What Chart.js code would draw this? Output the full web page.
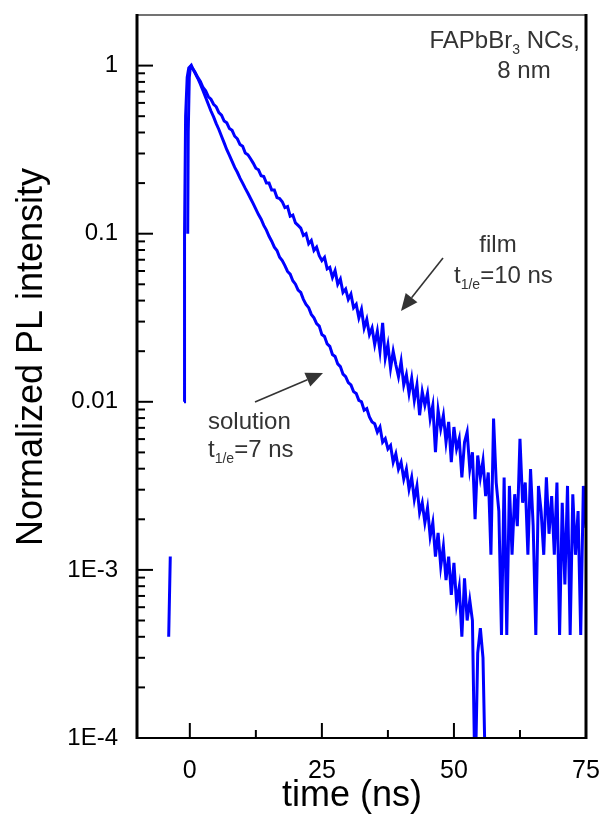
<!DOCTYPE html>
<html>
<head>
<meta charset="utf-8">
<script src="https://cdn.jsdelivr.net/npm/chart.js@4"></script>
<style>
  html, body { margin: 0; padding: 0; background: #fff; }
  canvas { display: block; }
</style>
</head>
<body>
<canvas id="plChart" width="608" height="815"></canvas>
<script>
// time axis (ns) and normalized PL intensity
const solutionTime = [-4.0, -3.7, -3.5, -1.1, -1.0, -0.8, -0.5, -0.2, 0.2,
  0.5, 1, 1.5, 2, 2.5, 3, 3.5, 4, 4.5, 5, 5.5, 6, 6.5, 7, 7.5, 8, 8.5, 9, 9.5, 10,
  10.5, 11, 11.5, 12, 12.5, 13, 13.5, 14, 14.5, 15, 15.5, 16, 16.5, 17, 17.5, 18, 18.5, 19, 19.5, 20,
  20.5, 21, 21.5, 22, 22.5, 23, 23.5, 24, 24.5, 25, 25.5, 26, 26.5, 27, 27.5, 28, 28.5, 29, 29.5, 30,
  30.5, 31, 31.5, 32, 32.5, 33, 33.5, 34, 34.5, 35, 35.5, 36, 36.5, 37, 37.5, 38, 38.5, 39, 39.5, 40,
  40.5, 41, 41.5, 42, 42.5, 43, 43.5, 44, 44.5, 45, 45.5, 46, 46.5, 47, 47.5, 48, 48.5, 49, 49.5, 50,
  50.5, 51, 51.5, 52, 52.5, 53, 53.5, 54, 54.5, 55, 55.5, 56];

const solutionIntensity = [0.0004, 0.0012, null, 0.01, 0.1, 0.5, 0.85, 0.97, 1.0,
  0.966, 0.902, 0.841, 0.776, 0.708, 0.646, 0.589, 0.537, 0.495, 0.452,
  0.417, 0.380, 0.347, 0.316, 0.292, 0.269, 0.248, 0.232, 0.214, 0.200,
  0.186, 0.174, 0.162, 0.151, 0.140, 0.130, 0.122, 0.112, 0.105, 0.0966,
  0.0902, 0.0832, 0.0794, 0.0724, 0.0692, 0.0646, 0.0596, 0.0575, 0.0525, 0.0501,
  0.0462, 0.0447, 0.0407, 0.0380, 0.0363, 0.0331, 0.0316, 0.0292, 0.0282, 0.0251,
  0.0245, 0.0221, 0.0214, 0.0191, 0.0186, 0.0168, 0.0162, 0.0146, 0.0141, 0.0130,
  0.0126, 0.0115, 0.0112, 0.0102, 0.0100, 0.00891, 0.00912, 0.00813, 0.00759, 0.00741,
  0.00661, 0.00708, 0.00575, 0.00603, 0.00525, 0.00550, 0.00437, 0.00490, 0.00398, 0.00437,
  0.00347, 0.00398, 0.00302, 0.00355, 0.00263, 0.00316, 0.00219, 0.00251, 0.00191, 0.00234,
  0.00158, 0.00191, 0.00120, 0.00166, 0.00105, 0.00138, 0.00087, 0.00120, 0.00071, 0.00110,
  0.00063, 0.00079, 0.00040, 0.00089, 0.00050, 0.00066, 0.00050, 0.00005, 0.00032, 0.00045,
  0.00030, 0.00005];

const filmTime = [-0.4, -0.3, -0.1, 0.1, 0.3,
  0.5, 1, 1.5, 2, 2.5, 3, 3.5, 4, 4.5, 5, 5.5, 6, 6.5, 7, 7.5, 8, 8.5, 9, 9.5, 10,
  10.5, 11, 11.5, 12, 12.5, 13, 13.5, 14, 14.5, 15, 15.5, 16, 16.5, 17, 17.5, 18, 18.5, 19, 19.5, 20,
  20.5, 21, 21.5, 22, 22.5, 23, 23.5, 24, 24.5, 25, 25.5, 26, 26.5, 27, 27.5, 28, 28.5, 29, 29.5, 30,
  30.5, 31, 31.5, 32, 32.5, 33, 33.5, 34, 34.5, 35, 35.5, 36, 36.5, 37, 37.5, 38, 38.5, 39, 39.5, 40,
  40.5, 41, 41.5, 42, 42.5, 43, 43.5, 44, 44.5, 45, 45.5, 46, 46.5, 47, 47.5, 48, 48.5, 49, 49.5, 50,
  50.5, 51, 51.5, 52, 52.5, 53, 53.5, 54, 54.5, 55, 55.5, 56, 56.5, 57, 57.5, 58, 58.5, 59, 59.5, 60,
  60.5, 61, 61.5, 62, 62.5, 63, 63.5, 64, 64.5, 65, 65.5, 66, 66.5, 67, 67.5, 68, 68.5, 69, 69.5, 70,
  70.5, 71, 71.5, 72, 72.5, 73, 73.5, 74, 74.5, 75];

const filmIntensity = [0.1, 0.4, 0.85, 0.98, 1.0,
  0.966, 0.912, 0.851, 0.804, 0.741, 0.708, 0.653, 0.631, 0.589, 0.569,
  0.525, 0.507, 0.468, 0.457, 0.422, 0.412, 0.380, 0.367, 0.339, 0.331,
  0.302, 0.295, 0.279, 0.263, 0.245, 0.240, 0.221, 0.219, 0.200, 0.200,
  0.182, 0.182, 0.164, 0.162, 0.155, 0.143, 0.145, 0.127, 0.129, 0.116,
  0.112, 0.108, 0.0977, 0.100, 0.0871, 0.0912, 0.0794, 0.0832, 0.0741, 0.0692,
  0.0724, 0.0617, 0.0631, 0.0550, 0.0603, 0.0501, 0.0537, 0.0447, 0.0468, 0.0407,
  0.0437, 0.0363, 0.0380, 0.0316, 0.0355, 0.0275, 0.0309, 0.0251, 0.0275, 0.0219,
  0.0263, 0.0200, 0.0295, 0.0182, 0.0219, 0.0158, 0.0200, 0.0166, 0.0141, 0.0174,
  0.0126, 0.0145, 0.0112, 0.0138, 0.0102, 0.0126, 0.00832, 0.0115, 0.00955, 0.0112,
  0.00794, 0.00955, 0.00501, 0.00891, 0.00692, 0.00832, 0.00575, 0.00759, 0.00437, 0.00708,
  0.00525, 0.00603, 0.00355, 0.00575, 0.00661, 0.00398, 0.00501, 0.00200, 0.00479, 0.00355,
  0.00447, 0.00275, 0.00380, 0.00123, 0.00794, 0.00331, 0.00224, 0.00041, 0.00355, 0.00041,
  0.00316, 0.00123, 0.00282, 0.00182, 0.00603, 0.00251, 0.00331, 0.00123, 0.00398, 0.00182,
  0.00041, 0.00316, 0.00224, 0.00123, 0.00355, 0.00164, 0.00275, 0.00123, 0.00331, 0.00041,
  0.00251, 0.00082, 0.00316, 0.00041, 0.00282, 0.00123, 0.00224, 0.00041, 0.00316, 0.00178];

const xMajorTicks = [0, 25, 50, 75];
const xMinorTicks = [12.5, 37.5, 62.5];
const yDecades = [0.0001, 0.001, 0.01, 0.1, 1];
const yTickLabels = ['1E-4', '1E-3', '0.01', '0.1', '1'];
const yMinorSteps = [2, 3, 4, 5, 6, 7, 8, 9];

const FONT = '"Liberation Sans", Arial, Helvetica, sans-serif';
const LINE_BLUE = '#0000ff';
const TEXT_GREY = '#333333';

function toPoints(xs, ys) {
  return xs.map((x, i) => ({ x: x, y: ys[i] }));
}

// text with one subscripted chunk, e.g. FAPbBr3 or t1/e
function drawRich(ctx, parts, x, y, size, align) {
  const subSize = Math.round(size * 0.6);
  let width = 0;
  parts.forEach(p => {
    ctx.font = (p.sub ? subSize : size) + 'px ' + FONT;
    p.w = ctx.measureText(p.t).width;
    width += p.w;
  });
  let cx = x;
  if (align === 'center') cx = x - width / 2;
  if (align === 'right') cx = x - width;
  ctx.textAlign = 'left';
  ctx.textBaseline = 'alphabetic';
  parts.forEach(p => {
    ctx.font = (p.sub ? subSize : size) + 'px ' + FONT;
    ctx.fillText(p.t, cx, p.sub ? y + size * 0.25 : y);
    cx += p.w;
  });
}

function drawArrow(ctx, x0, y0, x1, y1) {
  const ang = Math.atan2(y1 - y0, x1 - x0);
  const head = 17, half = 7.5;
  const bx = x1 - head * Math.cos(ang), by = y1 - head * Math.sin(ang);
  ctx.strokeStyle = TEXT_GREY;
  ctx.fillStyle = TEXT_GREY;
  ctx.lineWidth = 1.6;
  ctx.beginPath();
  ctx.moveTo(x0, y0);
  ctx.lineTo(bx, by);
  ctx.stroke();
  ctx.beginPath();
  ctx.moveTo(x1, y1);
  ctx.lineTo(bx + half * Math.sin(ang), by - half * Math.cos(ang));
  ctx.lineTo(bx - half * Math.sin(ang), by + half * Math.cos(ang));
  ctx.closePath();
  ctx.fill();
}

const framePlugin = {
  id: 'frame',
  afterDraw(chart) {
    const ctx = chart.ctx;
    const { left, right, top, bottom } = chart.chartArea;
    const xs = chart.scales.x, ys = chart.scales.y;
    ctx.save();
    ctx.lineCap = 'butt';

    // box
    ctx.strokeStyle = '#444';
    ctx.lineWidth = 1.5;
    ctx.beginPath(); ctx.moveTo(left, top); ctx.lineTo(right, top); ctx.stroke();
    ctx.strokeStyle = '#000';
    ctx.lineWidth = 3;
    ctx.beginPath(); ctx.moveTo(left, top - 1); ctx.lineTo(left, bottom + 1); ctx.stroke();
    ctx.beginPath(); ctx.moveTo(right, top - 1); ctx.lineTo(right, bottom + 1); ctx.stroke();
    ctx.lineWidth = 2;
    ctx.beginPath(); ctx.moveTo(left, bottom); ctx.lineTo(right, bottom); ctx.stroke();

    // inward ticks
    ctx.lineWidth = 2;
    yDecades.forEach(d => {
      const py = ys.getPixelForValue(d);
      ctx.beginPath(); ctx.moveTo(left, py); ctx.lineTo(left + 16, py); ctx.stroke();
      if (d < 1) {
        yMinorSteps.forEach(m => {
          const my = ys.getPixelForValue(d * m);
          ctx.beginPath(); ctx.moveTo(left, my); ctx.lineTo(left + 8, my); ctx.stroke();
        });
      }
    });
    xMajorTicks.forEach(v => {
      const px = xs.getPixelForValue(v);
      ctx.beginPath(); ctx.moveTo(px, bottom); ctx.lineTo(px, bottom - 15); ctx.stroke();
    });
    xMinorTicks.forEach(v => {
      const px = xs.getPixelForValue(v);
      ctx.beginPath(); ctx.moveTo(px, bottom); ctx.lineTo(px, bottom - 8); ctx.stroke();
    });

    // axis titles
    ctx.fillStyle = '#000';
    ctx.font = '36px ' + FONT;
    ctx.textAlign = 'center';
    ctx.textBaseline = 'alphabetic';
    ctx.fillText('time (ns)', 352, 806);
    ctx.save();
    ctx.translate(42, 357);
    ctx.rotate(-Math.PI / 2);
    ctx.fillText('Normalized PL intensity', 0, 0);
    ctx.restore();

    // annotations
    ctx.fillStyle = TEXT_GREY;
    drawRich(ctx, [{ t: 'FAPbBr' }, { t: '3', sub: true }, { t: ' NCs,' }], 580, 48, 24, 'right');
    drawRich(ctx, [{ t: '8 nm' }], 524, 78, 24, 'center');
    drawRich(ctx, [{ t: 'film' }], 498, 252, 24, 'center');
    drawRich(ctx, [{ t: 't' }, { t: '1/e', sub: true }, { t: '=10 ns' }], 454, 283, 24, 'left');
    drawRich(ctx, [{ t: 'solution' }], 208, 429, 24, 'left');
    drawRich(ctx, [{ t: 't' }, { t: '1/e', sub: true }, { t: '=7 ns' }], 208, 457, 24, 'left');
    drawArrow(ctx, 443, 258, 401, 311);
    drawArrow(ctx, 255, 402, 323, 373);
    ctx.restore();
  }
};

new Chart(document.getElementById('plChart'), {
  type: 'line',
  data: {
    datasets: [{
      label: 'solution',
      data: toPoints(solutionTime, solutionIntensity),
      borderColor: LINE_BLUE,
      borderWidth: 3,
      pointRadius: 0,
      tension: 0,
      spanGaps: false
    }, {
      label: 'film',
      data: toPoints(filmTime, filmIntensity),
      borderColor: LINE_BLUE,
      borderWidth: 3,
      pointRadius: 0,
      tension: 0,
      spanGaps: false
    }]
  },
  options: {
    responsive: false,
    animation: false,
    devicePixelRatio: 1,
    layout: { padding: { top: 15, right: 22, left: 0, bottom: 0 } },
    plugins: {
      legend: { display: false },
      tooltip: { enabled: false }
    },
    scales: {
      x: {
        type: 'linear',
        min: -10,
        max: 75,
        afterBuildTicks: s => { s.ticks = xMajorTicks.map(v => ({ value: v })); },
        afterFit: s => {
          s.height = 77;
          s.paddingLeft = 0;
          s.paddingRight = 0;
        },
        grid: { display: false, drawTicks: false },
        border: { display: false },
        ticks: {
          autoSkip: false,
          maxRotation: 0,
          padding: 18,
          color: '#000',
          font: { family: FONT, size: 25 },
          callback: v => String(v)
        }
      },
      y: {
        type: 'logarithmic',
        min: 0.0001,
        max: 2,
        afterBuildTicks: s => { s.ticks = yDecades.map(v => ({ value: v })); },
        afterFit: s => {
          s.width = 137;
          s.paddingTop = 0;
          s.paddingBottom = 0;
        },
        grid: { display: false, drawTicks: false },
        border: { display: false },
        ticks: {
          autoSkip: false,
          padding: 19,
          color: '#000',
          font: { family: FONT, size: 24 },
          callback: (v, i) => yTickLabels[i]
        }
      }
    }
  },
  plugins: [framePlugin]
});
</script>
</body>
</html>
